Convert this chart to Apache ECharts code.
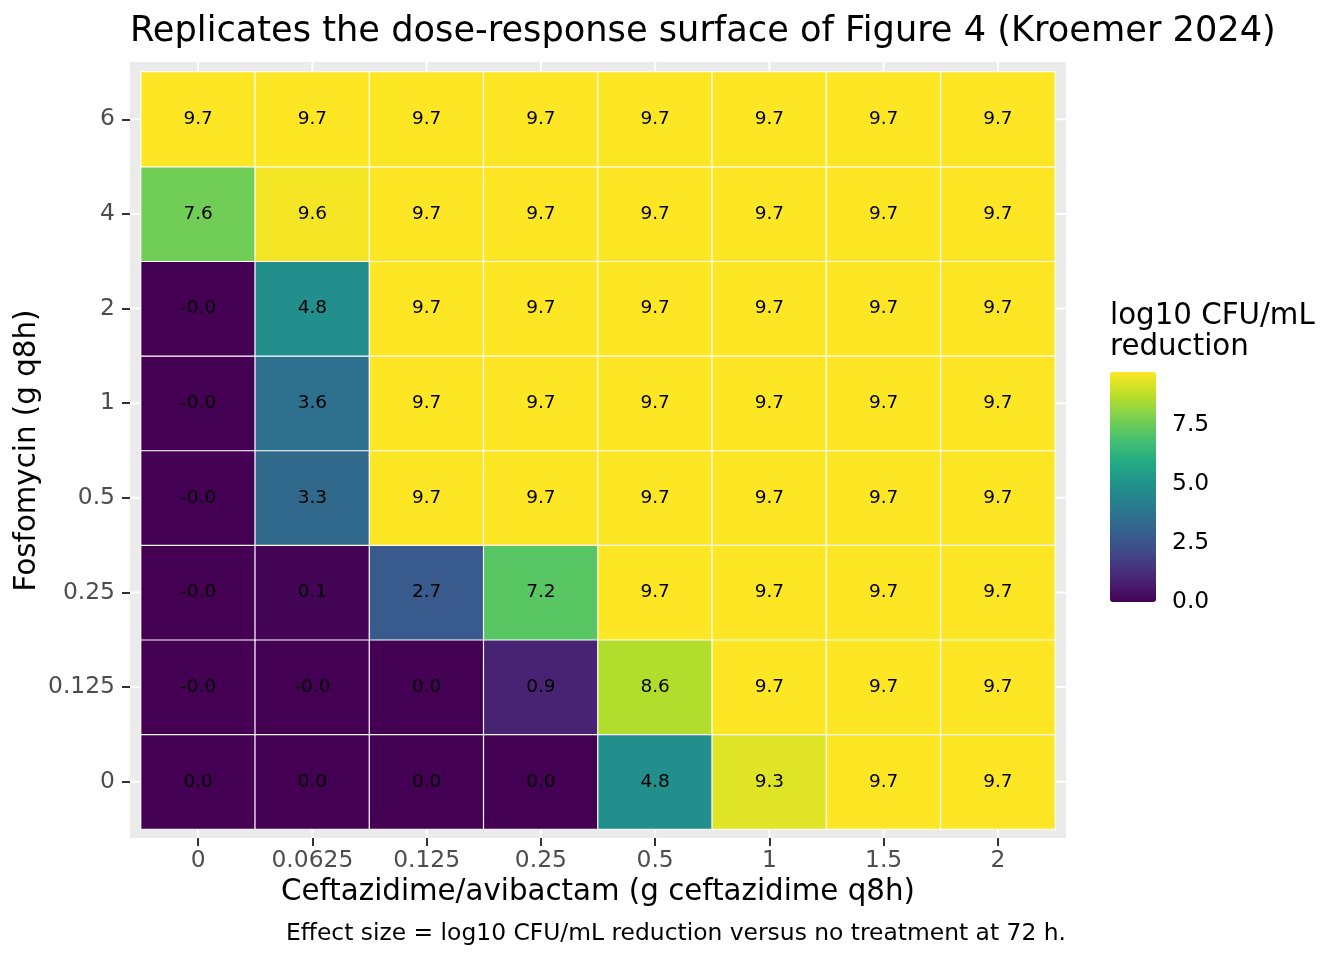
<!DOCTYPE html>
<html>
<head>
<meta charset="utf-8">
<script src="https://cdn.jsdelivr.net/npm/echarts@6/dist/echarts.min.js"></script>
<style>
  html, body { margin: 0; padding: 0; background: #fff; }
  #chart-container { width: 1344px; height: 960px; }
</style>
</head>
<body>
<div id="chart-container"></div>
<script>
// doses
var cazDoses = ['0', '0.0625', '0.125', '0.25', '0.5', '1', '1.5', '2'];
var fofDoses = ['0', '0.125', '0.25', '0.5', '1', '2', '4', '6'];

// log10 CFU/mL reduction, one row per fosfomycin dose (bottom to top)
var fof0     = [0.0, 0.0, 0.0, 0.0, 4.8, 9.3, 9.72, 9.72];
var fof0125  = [-0.01, -0.01, 0.0, 0.9, 8.6, 9.72, 9.72, 9.72];
var fof025   = [-0.01, 0.1, 2.7, 7.2, 9.72, 9.72, 9.72, 9.72];
var fof05    = [-0.01, 3.3, 9.72, 9.72, 9.72, 9.72, 9.72, 9.72];
var fof1     = [-0.01, 3.6, 9.72, 9.72, 9.72, 9.72, 9.72, 9.72];
var fof2     = [-0.01, 4.8, 9.72, 9.72, 9.72, 9.72, 9.72, 9.72];
var fof4     = [7.6, 9.6, 9.72, 9.72, 9.72, 9.72, 9.72, 9.72];
var fof6     = [9.72, 9.72, 9.72, 9.72, 9.72, 9.72, 9.72, 9.72];
var rows = [fof0, fof0125, fof025, fof05, fof1, fof2, fof4, fof6];

var legendTicks = [0, 2.5, 5, 7.5];
var scaleMax = 9.72;

var viridis = ['#440154', '#482576', '#414487', '#35608D', '#2A788E', '#21908C',
               '#22A884', '#43BF71', '#7AD151', '#BBDF27', '#FDE725'];

var cells = [];
rows.forEach(function (row, yi) {
    row.forEach(function (v, xi) {
        cells.push([xi, yi, v]);
    });
});

var dom = document.getElementById('chart-container');
var myChart = echarts.init(dom, null, { renderer: 'canvas' });
var font = 'DejaVu Sans';

// white panel grid lines at the category centres, running out to the grey panel edge
function gridLine(vertical) {
    return function (params, api) {
        var cs = params.coordSys;
        var p = api.coord([api.value(0), api.value(1)]);
        var shape = vertical
            ? { x1: p[0], y1: cs.y - 10, x2: p[0], y2: cs.y + cs.height + 9 }
            : { x1: cs.x - 11, y1: p[1], x2: cs.x + cs.width + 11, y2: p[1] };
        return { type: 'line', shape: shape, style: { stroke: '#fff', lineWidth: 2 } };
    };
}

var option = {
    animation: false,
    textStyle: { fontFamily: font },
    title: {
        text: 'Replicates the dose-response surface of Figure 4 (Kroemer 2024)',
        left: 130,
        top: 14,
        padding: 0,
        textStyle: { fontFamily: font, fontSize: 35.2, fontWeight: 'normal', color: '#000' }
    },
    graphic: [
        {
            type: 'rect', left: 130, top: 62, z: -10,
            shape: { width: 936, height: 776 },
            style: { fill: '#EBEBEB' }
        },
        {
            type: 'text', left: 1110, top: 301,
            style: { text: 'log10 CFU/mL\nreduction', font: '29.3px "DejaVu Sans"', fill: '#000', lineHeight: 31 }
        },
        {
            type: 'text', right: 278, top: 922,
            style: { text: 'Effect size = log10 CFU/mL reduction versus no treatment at 72 h.', font: '23.4px "DejaVu Sans"', fill: '#000' }
        }
    ],
    grid: [
        { left: 141, right: 289, top: 72, bottom: 131 },
        { left: 1110, top: 372, width: 46, height: 230 }
    ],
    xAxis: [
        {
            type: 'category',
            data: cazDoses,
            offset: 9,
            name: 'Ceftazidime/avibactam (g ceftazidime q8h)',
            nameLocation: 'middle',
            nameGap: 40,
            nameMoveOverlap: false,
            nameTextStyle: { fontSize: 29.3, color: '#000', fontFamily: font },
            axisLine: { show: true, lineStyle: { color: 'rgba(0,0,0,0)' } },
            axisTick: { show: true, alignWithLabel: true, length: 8, lineStyle: { color: '#333', width: 2 } },
            axisLabel: { fontSize: 23.4, color: '#4D4D4D', margin: 11 },
            splitLine: { show: false },
            splitArea: { show: false }
        },
        { gridIndex: 1, type: 'value', min: 0, max: 1, show: false }
    ],
    yAxis: [
        {
            type: 'category',
            data: fofDoses,
            offset: 11,
            name: 'Fosfomycin (g q8h)',
            nameLocation: 'middle',
            nameGap: 88,
            nameMoveOverlap: false,
            nameTextStyle: { fontSize: 29.3, color: '#000', fontFamily: font },
            axisLine: { show: true, lineStyle: { color: 'rgba(0,0,0,0)' } },
            axisTick: { show: true, alignWithLabel: true, length: 8, lineStyle: { color: '#333', width: 2 } },
            axisLabel: { fontSize: 23.4, color: '#4D4D4D', margin: 15 },
            splitLine: { show: false },
            splitArea: { show: false }
        },
        {
            gridIndex: 1, type: 'value', position: 'right',
            min: 0, max: scaleMax, interval: 2.5,
            axisLine: { show: false },
            splitLine: { show: false },
            axisTick: { show: true, inside: true, length: 9, lineStyle: { color: '#fff', width: 1 } },
            axisLabel: {
                showMaxLabel: false, fontSize: 23.4, color: '#000', margin: 16,
                formatter: function (v) { return legendTicks.indexOf(v) >= 0 ? v.toFixed(1) : ''; }
            }
        },
        {
            gridIndex: 1, type: 'value', position: 'left',
            min: 0, max: scaleMax, interval: 2.5,
            axisLine: { show: false },
            splitLine: { show: false },
            axisLabel: { show: false },
            axisTick: { show: true, inside: true, length: 9, lineStyle: { color: '#fff', width: 1 } }
        }
    ],
    visualMap: {
        type: 'continuous',
        min: 0,
        max: scaleMax,
        seriesIndex: 0,
        calculable: false,
        left: 1110,
        top: 372,
        padding: 0,
        itemWidth: 46,
        itemHeight: 230,
        text: null,
        showLabel: false,
        inRange: { color: viridis },
        z: 1
    },
    series: [
        {
            type: 'heatmap',
            data: cells,
            z: 3,
            itemStyle: { borderColor: '#fff', borderWidth: 1.2 },
            label: {
                show: true,
                fontSize: 18.5,
                color: '#000',
                fontFamily: font,
                formatter: function (p) { return p.value[2].toFixed(1); }
            },
            emphasis: { disabled: true }
        },
        {
            type: 'custom',
            z: 1,
            clip: false,
            silent: true,
            renderItem: gridLine(true),
            data: cazDoses.map(function (c, i) { return [i, 0]; })
        },
        {
            type: 'custom',
            z: 1,
            clip: false,
            silent: true,
            renderItem: gridLine(false),
            data: fofDoses.map(function (c, i) { return [0, i]; })
        }
    ]
};

myChart.setOption(option);
</script>
</body>
</html>
